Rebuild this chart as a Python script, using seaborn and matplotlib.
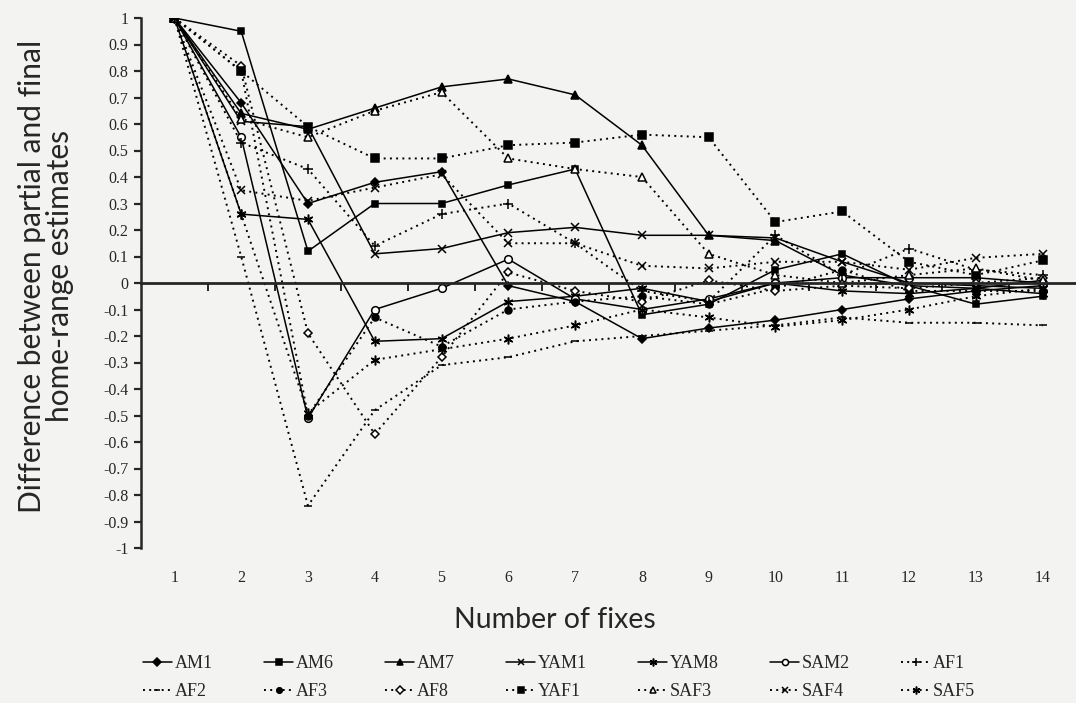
import numpy as np
import pandas as pd
import matplotlib
matplotlib.use("Agg")
import matplotlib.pyplot as plt
import seaborn as sns

# Number of fixes (x) and relative difference for each animal
fixes = list(range(1, 15))

AM1  = [1, 0.68, 0.30, 0.38, 0.42, -0.01, -0.07, -0.21, -0.17, -0.14, -0.10, -0.06, -0.03, -0.01]
AM6  = [1, 0.95, 0.12, 0.30, 0.30, 0.37, 0.43, -0.12, -0.08, 0.05, 0.11, -0.01, -0.08, -0.05]
AM7  = [1, 0.64, 0.58, 0.66, 0.74, 0.77, 0.71, 0.52, 0.18, 0.16, 0.03, -0.01, -0.02, 0.01]
YAM1 = [1, 0.61, 0.59, 0.11, 0.13, 0.19, 0.21, 0.18, 0.18, 0.17, 0.08, 0.00, -0.01, -0.02]
YAM8 = [1, 0.26, 0.24, -0.22, -0.21, -0.07, -0.05, -0.02, -0.07, 0.00, -0.03, -0.04, -0.02, -0.04]
SAM2 = [1, 0.55, -0.51, -0.10, -0.02, 0.09, -0.06, -0.10, -0.06, 0.00, 0.02, 0.02, 0.02, 0.00]
AF1  = [1, 0.53, 0.43, 0.14, 0.26, 0.30, 0.15, -0.03, -0.07, 0.18, 0.03, 0.13, 0.05, 0.03]
AF2  = [1, 0.10, -0.84, -0.48, -0.31, -0.28, -0.22, -0.20, -0.18, -0.16, -0.13, -0.15, -0.15, -0.16]
AF3  = [1, 0.80, -0.50, -0.13, -0.24, -0.10, -0.07, -0.05, -0.08, -0.02, 0.05, -0.03, -0.03, -0.03]
AF8  = [1, 0.82, -0.19, -0.57, -0.28, 0.04, -0.03, -0.07, 0.01, -0.03, -0.01, -0.02, 0.00, 0.02]
YAF1 = [1, 0.80, 0.59, 0.47, 0.47, 0.52, 0.53, 0.56, 0.55, 0.23, 0.27, 0.08, 0.03, 0.085]
SAF3 = [1, 0.62, 0.55, 0.65, 0.72, 0.47, 0.43, 0.40, 0.11, 0.03, 0.00, 0.03, 0.055, 0.01]
SAF4 = [1, 0.35, 0.31, 0.36, 0.41, 0.15, 0.15, 0.065, 0.055, 0.08, 0.08, 0.05, 0.095, 0.11]
SAF5 = [1, 0.26, -0.49, -0.29, -0.25, -0.21, -0.16, -0.10, -0.13, -0.165, -0.14, -0.10, -0.05, -0.02]

names = ["AM1", "AM6", "AM7", "YAM1", "YAM8", "SAM2", "AF1",
         "AF2", "AF3", "AF8", "YAF1", "SAF3", "SAF4", "SAF5"]
values = [AM1, AM6, AM7, YAM1, YAM8, SAM2, AF1,
          AF2, AF3, AF8, YAF1, SAF3, SAF4, SAF5]

y_ticks = [round(v, 1) + 0.0 for v in np.arange(-1, 1.001, 0.1)]

asterisk = (6, 2, 0)
dotted = (0, (1, 2.2))
# name -> (marker, filled, linestyle, markersize)
styles = {
    "AM1":  ("D", True,  "-", 4.5),
    "AM6":  ("s", True,  "-", 5),
    "AM7":  ("^", True,  "-", 5.5),
    "YAM1": ("x", True,  "-", 6),
    "YAM8": (asterisk, True, "-", 7),
    "SAM2": ("o", False, "-", 5.5),
    "AF1":  ("+", True,  dotted, 7),
    "AF2":  ("_", True,  dotted, 6),
    "AF3":  ("o", True,  dotted, 5),
    "AF8":  ("D", False, dotted, 4.5),
    "YAF1": ("s", True,  dotted, 5.5),
    "SAF3": ("^", False, dotted, 6),
    "SAF4": ("x", True,  dotted, 6),
    "SAF5": (asterisk, True, dotted, 7),
}

sns.set_style("ticks")
plt.rcParams["font.family"] = ["Liberation Serif", "DejaVu Serif"]
plt.rcParams["axes.unicode_minus"] = False

bg = "#f3f3f2"
fig = plt.figure(figsize=(10.76, 7.03), dpi=100, facecolor=bg)
ax = fig.add_axes([141 / 1076, 155 / 703, 935 / 1076, 530 / 703])
ax.set_facecolor(bg)

handles = []
for name, vals in zip(names, values):
    mk, filled, ls, ms = styles[name]
    df = pd.DataFrame({"fixes": fixes, "diff": vals})
    sns.lineplot(data=df, x="fixes", y="diff", ax=ax, color="black",
                 linestyle=ls, linewidth=1.1 if ls == "-" else 1.4,
                 marker=mk, markersize=ms,
                 markerfacecolor="black" if filled else "white",
                 markeredgecolor="black", markeredgewidth=1.1,
                 legend=False, zorder=3)
    line = ax.lines[-1]
    line.set_label(name)
    handles.append(line)

ax.set_xlim(0.5, 14.5)
ax.set_ylim(-1, 1)
ax.set_xlabel("")
ax.set_ylabel("")

# y axis on the left, x axis line through zero with ticks between categories
for side in ("top", "right"):
    ax.spines[side].set_visible(False)
ax.spines["left"].set_linewidth(1.8)
ax.spines["bottom"].set_position(("data", 0))
ax.spines["bottom"].set_linewidth(2.0)
ax.spines["bottom"].set_zorder(5)

ax.set_yticks(y_ticks)
ax.set_yticklabels([f"{v:g}" for v in y_ticks])
ax.tick_params(axis="y", direction="out", length=5, width=1.6, pad=4,
               labelsize=11.5)
ax.set_xticks(np.arange(1.5, 14, 1))
ax.set_xticklabels([])
ax.tick_params(axis="x", direction="out", length=6, width=1.4)

# category labels along the bottom of the plot area
sec = ax.secondary_xaxis("bottom")
sec.set_xticks(fixes)
sec.set_xticklabels([str(f) for f in fixes])
sec.tick_params(length=0, pad=16, labelsize=11.5)
sec.spines["bottom"].set_visible(False)

sans = ["Lato", "DejaVu Sans"]
fig.text(555 / 1076, 1 - 620 / 703, "Number of fixes", ha="center",
         va="center", fontsize=20.5, family=sans)
fig.text(46 / 1076, 1 - 276 / 703,
         "Difference between partial and final\nhome-range estimates",
         ha="center", va="center", rotation=90, fontsize=21.5,
         family=sans, linespacing=1.0, multialignment="center")

# legend in two rows of seven, filled row by row
order = [i + r * 7 for i in range(7) for r in range(2)]
fig.legend([handles[i] for i in order], [names[i] for i in order],
           ncol=7, loc="upper left", bbox_to_anchor=(143 / 1076, 1 - 655 / 703),
           borderaxespad=0, borderpad=0,
           frameon=False, fontsize=13, handlelength=1.6,
           handletextpad=0.15, columnspacing=2.85, labelspacing=0.6,
           markerscale=0.8)

fig.savefig("out.png", dpi=100, facecolor=bg)
